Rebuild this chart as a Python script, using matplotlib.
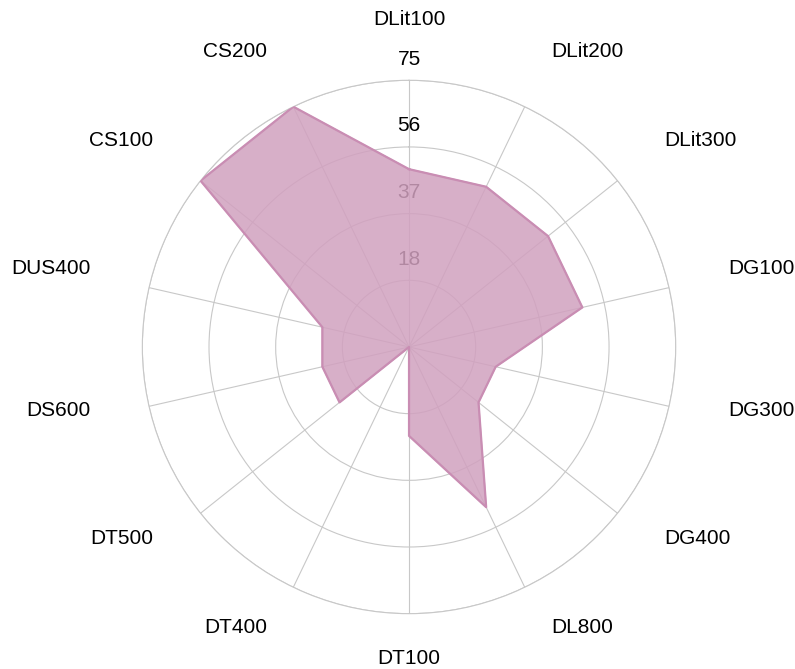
import numpy as np
import matplotlib
matplotlib.use("Agg")
import matplotlib.pyplot as plt

plt.rcParams['font.family'] = ['Liberation Sans', 'DejaVu Sans']

# categories clockwise from the top
categories = ["DLit100", "DLit200", "DLit300", "DG100", "DG300", "DG400", "DL800",
              "DT100", "DT400", "DT500", "DS600", "DUS400", "CS100", "CS200"]
values = [50, 50, 50, 50, 25, 25, 50, 25, 0, 25, 25, 25, 75, 75]
r_max = 75
r_ticks = [18.75, 37.5, 56.25, 75]

n = len(categories)
angles = np.arange(n) * 2 * np.pi / n

fig = plt.figure(figsize=(7.95, 6.69), dpi=100)
ax = fig.add_axes([0.179, 0.0827, 0.671, 0.7973], projection="polar")
ax.set_theta_zero_location("N")
ax.set_theta_direction(-1)
ax.set_ylim(0, r_max)
ax.set_axisbelow(True)

ax.set_xticks(angles)
ax.set_xticklabels([])
ax.set_yticks(r_ticks)
ax.set_yticklabels([])
ax.tick_params(length=0)
ax.grid(True, color="#c8c8c8", linewidth=0.8)
ax.spines["polar"].set_color("#c8c8c8")
ax.spines["polar"].set_linewidth(0.8)
ax.spines["polar"].set_zorder(0.5)

# radial tick values, drawn under the fill
for t in r_ticks:
    ax.annotate(str(int(t)), xy=(0, t), xytext=(0, 21), textcoords="offset pixels",
                ha="center", va="center", fontsize=15, color="black", zorder=0.9)

# data polygon
a_closed = np.append(angles, angles[0])
v_closed = np.append(values, values[0])
ax.fill(a_closed, v_closed, color="#d1a1bf", alpha=0.85, zorder=1)
ax.plot(a_closed, v_closed, color="#c98db3", linewidth=1.6, zorder=2)

# category labels around the outside
for ang, name in zip(angles, categories):
    s, c = np.sin(ang), np.cos(ang)
    if s > 0.01:
        ha = "left"
    elif s < -0.01:
        ha = "right"
    else:
        ha = "center"
    dx = 60.3 * s
    dy = 52.8 * c + 7.5
    ax.annotate(name, xy=(ang, r_max), xytext=(dx, dy), textcoords="offset pixels",
                ha=ha, va="center", fontsize=15, color="black", annotation_clip=False)

fig.savefig("out.png", dpi=100)
